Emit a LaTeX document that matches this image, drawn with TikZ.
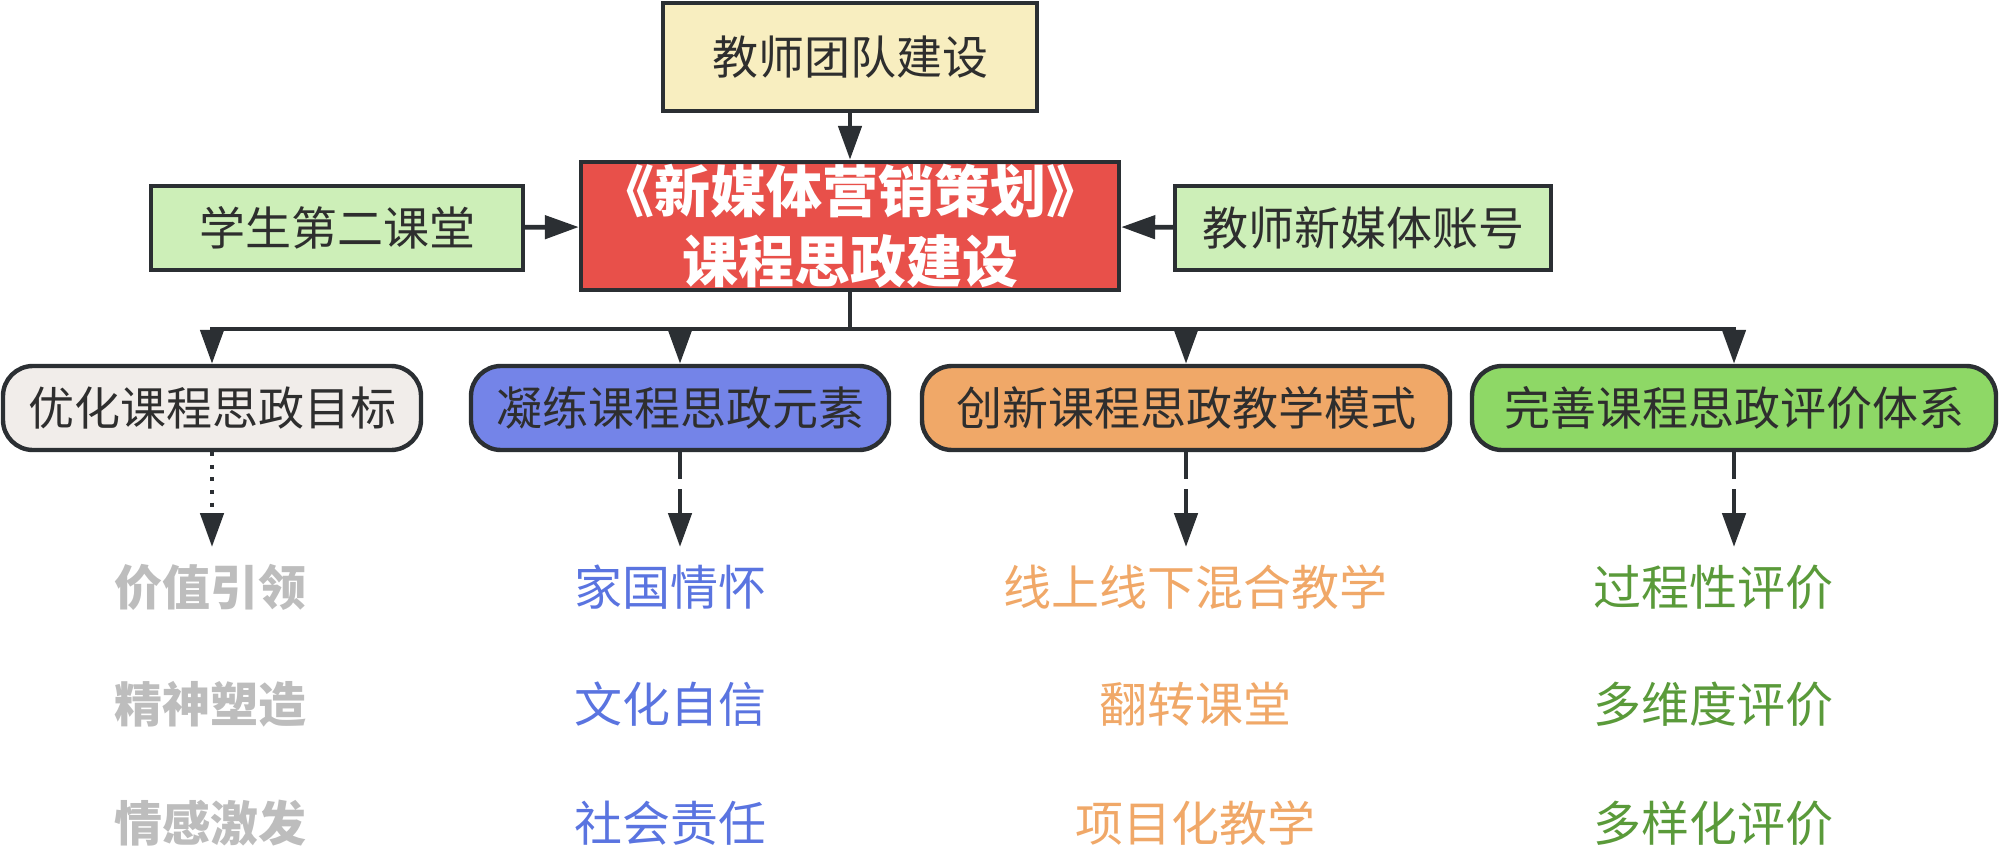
\documentclass[tikz,border=0pt]{standalone}
\usepackage{fontspec}
\setmainfont{Noto Sans CJK SC}
\usetikzlibrary{arrows.meta}
\definecolor{bd}{HTML}{2B2F33}
\definecolor{txt}{HTML}{2E2E2E}
\definecolor{cyel}{HTML}{F8EEC0}
\definecolor{cred}{HTML}{E8504A}
\definecolor{cgrn}{HTML}{CDEFB8}
\definecolor{cgray}{HTML}{F1EDEA}
\definecolor{cblue}{HTML}{7484E8}
\definecolor{corg}{HTML}{F0A868}
\definecolor{cgrn2}{HTML}{8ED866}
\definecolor{tgray}{HTML}{BDBDBD}
\definecolor{tblue}{HTML}{5A74E0}
\definecolor{torg}{HTML}{F0A868}
\definecolor{tgrn}{HTML}{5A9A3A}
\tikzset{
  box/.style={draw=bd, line width=2.2pt, inner sep=0pt, align=center, text=txt, font=\fontsize{23pt}{28pt}\selectfont},
  pill/.style={box, rounded corners=15pt, minimum height=42pt},
  conn/.style={draw=bd, line width=2.4pt},
  arr/.style={conn, -{Triangle[width=11.5pt,length=17pt]}},
  sub/.style={inner sep=0pt, font=\fontsize{24pt}{28pt}\selectfont},
}
\begin{document}
\begin{tikzpicture}[x=0.5pt,y=-0.5pt]
\useasboundingbox (0,0) rectangle (2000,850);
\node[box, fill=cyel, minimum width=187pt, minimum height=54pt] (top) at (850,57) {教师团队建设};
\node[box, fill=cred, text=white, minimum width=269pt, minimum height=64pt,
  font=\fontsize{28pt}{35pt}\selectfont\bfseries] (main) at (850,226) {\kern-4pt《新媒体营销策划》\kern-4pt\\课程思政建设};
\node[box, fill=cgrn, minimum width=186pt, minimum height=42pt] (left) at (337,228) {学生第二课堂};
\node[box, fill=cgrn, minimum width=188pt, minimum height=42pt] (right) at (1363,228) {教师新媒体账号};

\node[pill, fill=cgray, minimum width=209pt] (o1) at (212,408) {优化课程思政目标};
\node[pill, fill=cblue, minimum width=209pt] (o2) at (680,408) {凝练课程思政元素};
\node[pill, fill=corg, minimum width=264pt] (o3) at (1186,408) {创新课程思政教学模式};
\node[pill, fill=cgrn2, minimum width=262pt] (o4) at (1734,408) {完善课程思政评价体系};

\draw[arr] (top) -- (main);
\draw[arr] (left) -- (main);
\draw[arr] (right) -- (main);

\coordinate (bus) at (850,329);
\draw[conn] (main.south) -- (bus);
\foreach \i in {1,2,3,4} {
  \draw[arr] (bus) -| (o\i.north);
}

\coordinate (e1) at (212,547);
\coordinate (e2) at (680,547);
\coordinate (e3) at (1186,547);
\coordinate (e4) at (1734,547);
\draw[arr, dash pattern=on 2pt off 4.3pt] (o1.south) -- (e1);
\draw[arr, dash pattern=on 13.5pt off 5pt] (o2.south) -- (e2);
\draw[arr, dash pattern=on 13.5pt off 5pt] (o3.south) -- (e3);
\draw[arr, dash pattern=on 13.5pt off 5pt] (o4.south) -- (e4);

\node[sub, text=tgray, font=\fontsize{24pt}{28pt}\selectfont\bfseries] (a1) at (210,587) {价值引领};
\node[sub, text=tgray, font=\fontsize{24pt}{28pt}\selectfont\bfseries] (a2) at (210,704) {精神塑造};
\node[sub, text=tgray, font=\fontsize{24pt}{28pt}\selectfont\bfseries] (a3) at (210,823) {情感激发};
\node[sub, text=tblue] (b1) at (670,587) {家国情怀};
\node[sub, text=tblue] (b2) at (670,704) {文化自信};
\node[sub, text=tblue] (b3) at (670,823) {社会责任};
\node[sub, text=torg] (c1) at (1195,587) {线上线下混合教学};
\node[sub, text=torg] (c2) at (1195,704) {翻转课堂};
\node[sub, text=torg] (c3) at (1195,823) {项目化教学};
\node[sub, text=tgrn] (d1) at (1713,587) {过程性评价};
\node[sub, text=tgrn] (d2) at (1713,704) {多维度评价};
\node[sub, text=tgrn] (d3) at (1713,823) {多样化评价};
\end{tikzpicture}
\end{document}
